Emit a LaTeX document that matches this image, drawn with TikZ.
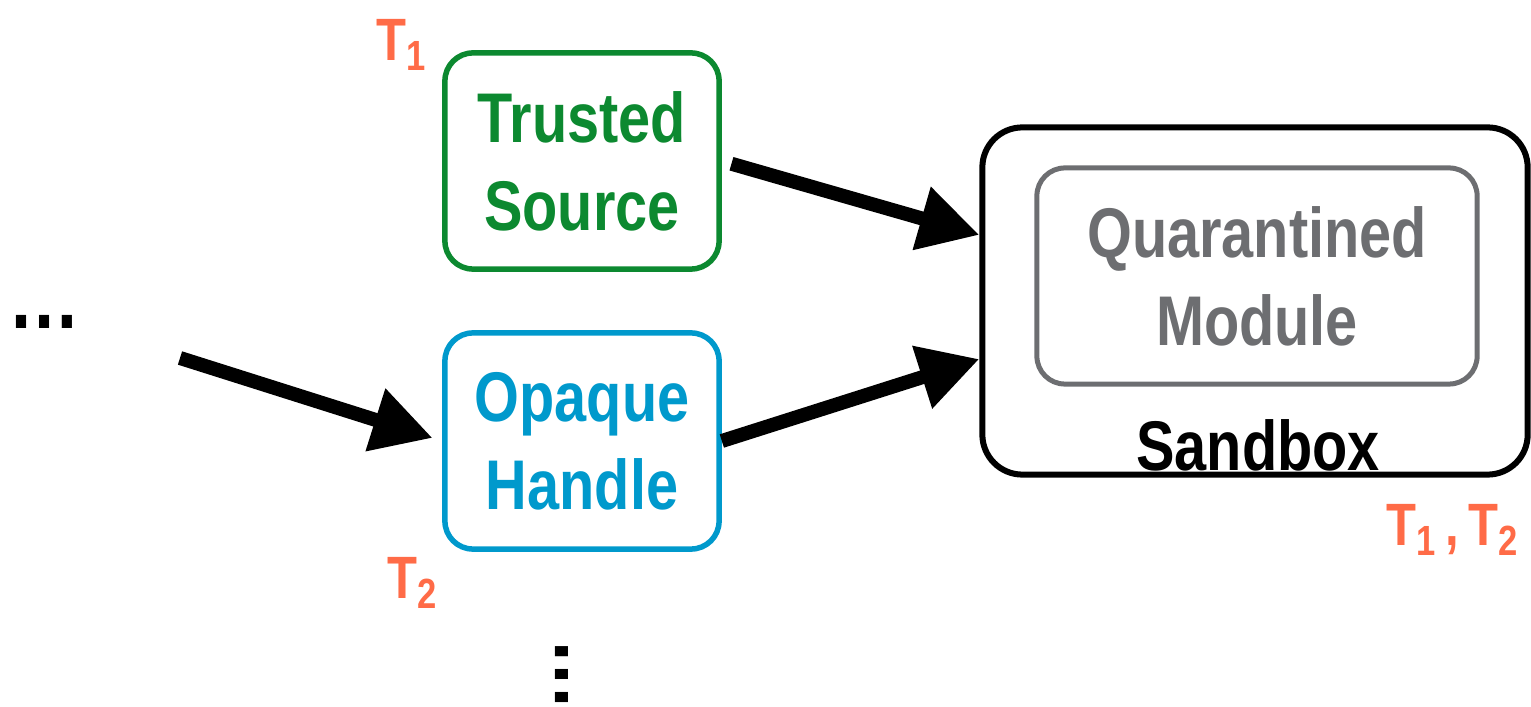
\documentclass[tikz,border=0pt]{standalone}
\usepackage{fontspec}
\setmainfont{Liberation Sans}[FakeStretch=0.82]
\usetikzlibrary{arrows.meta}

\definecolor{trustgreen}{RGB}{12,137,48}
\definecolor{opaqueblue}{RGB}{0,153,204}
\definecolor{quargray}{RGB}{109,110,113}
\definecolor{taskorange}{RGB}{255,107,71}

\newcommand{\tlabel}[1]{T\raisebox{-0.3ex}{\fontsize{12}{12}\selectfont #1}}

\tikzset{
  box/.style={draw, rounded corners=0.28cm, line width=0.055cm,
    minimum width=2.74cm, minimum height=2.16cm, align=center,
    font=\bfseries\fontsize{20}{25}\selectfont},
  flow/.style={line width=0.14cm, -{Triangle[length=0.6cm,width=0.62cm]}},
  task/.style={text=taskorange, font=\bfseries\fontsize{17}{17}\selectfont, inner sep=0pt},
  etc/.style={font=\bfseries\fontsize{25}{25}\selectfont, inner sep=0pt}
}

\begin{document}
\begin{tikzpicture}[x=0.01cm, y=-0.01cm]
    \useasboundingbox (0,0) rectangle (1531,707);
    % sources
    \node[box, trustgreen, text=trustgreen] (trusted) at (582,161) {Trusted\\Source};
    \node[box, opaqueblue, text=opaqueblue] (opaque) at (582,441) {Opaque\\Handle};
    % sandbox
    \node[box, line width=0.06cm, rounded corners=0.4cm, minimum width=5.45cm,
      minimum height=3.47cm] (sandbox) at (1255,301) {};
    \node[box, quargray, text=quargray, line width=0.05cm, minimum width=4.4cm]
      (quar) at (1257,276) {Quarantined\\Module};
    \node[font=\bfseries\fontsize{20}{25}\selectfont] (sbxlabel) at (1258,445) {Sandbox};
    % task labels
    \node[task] (t1) at (401,45) {\tlabel{1}};
    \node[task] (t2) at (412,583) {\tlabel{2}};
    \node[task] (t12) at (1452,530) {\tlabel{1}\,,\,\tlabel{2}};
    % elisions
    \node[etc] (hdots) at (45,322) {…};
    \node[etc, rotate=90] (vdots) at (562,674) {…};
    % flows
    \coordinate (src) at (180,358);
    \draw[flow, shorten >=0.1cm] (src) -- (opaque.west);
    \draw[flow, shorten <=0.1cm] (trusted.east) -- ([yshift=0.66cm]sandbox.west);
    \draw[flow] (opaque.east) -- ([yshift=-0.58cm]sandbox.west);
\end{tikzpicture}
\end{document}
